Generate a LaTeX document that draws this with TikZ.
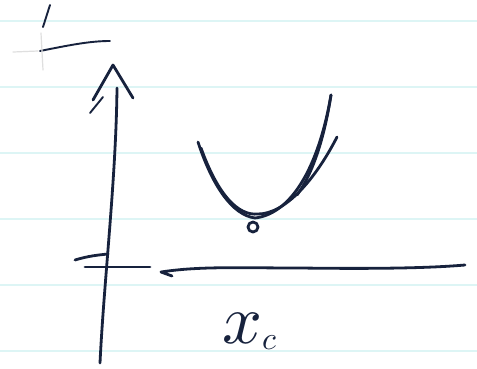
\documentclass[tikz,border=0pt]{standalone}
\begin{document}
\begin{tikzpicture}[x=1pt,y=-1pt,
  ink/.style={draw=inkc,line width=2.8pt,line cap=round,line join=round},
  thinink/.style={draw=inkc,line width=1.9pt,line cap=round,line join=round},
  faint/.style={draw=gray!25,line width=1.2pt,line cap=round},
  ruled/.style={draw=rulec,line width=2pt}]
\definecolor{inkc}{HTML}{17223D}
\definecolor{rulec}{HTML}{DDF5F5}
\useasboundingbox (0,0) rectangle (477,368);
\fill[white] (0,0) rectangle (477,368);
% ruled paper lines
\foreach \yy in {21,87,153,219,285,351} \draw[ruled] (0,\yy) -- (477,\yy);
% top-left tick mark
\draw[faint] (13,52) -- (38,51);
\draw[thinink] (40,51) .. controls (70,45) and (90,41) .. (110,41);
\draw[thinink] (50,5) -- (43,27);
\draw[faint] (41,33) -- (43,70);
% y axis with hand-drawn arrowhead
\coordinate (ytip) at (113,65);
\coordinate (ybot) at (100,363);
\draw[ink] (117,88) .. controls (116,180) and (104,280) .. (ybot);
\draw[ink] (93,100) -- (ytip) -- (133,98);
\draw[thinink] (90,113) -- (103,97);
% x axis
\draw[ink] (75,260) .. controls (88,256) and (98,255) .. (108,254);
\draw[ink] (85,267) -- (150,267);
\draw[ink] (172,276) -- (161,272) .. controls (200,266) and (240,268) .. (300,268) .. controls (380,269) and (430,268) .. (465,265);
% parabola strokes
\coordinate (pbot) at (255,218);
\draw[ink] (198,142) .. controls (212,185) and (232,215) .. (pbot) .. controls (290,214) and (318,170) .. (331,95);
\draw[ink] (201,148) .. controls (218,195) and (238,216) .. (258,214) .. controls (285,214) and (315,180) .. (337,137);
\draw[ink] (331,95) .. controls (324,140) and (312,175) .. (297,195);
\draw[ink] (253,227) circle (5);
% label
\node[text=inkc,inner sep=0pt,anchor=base west] (xc) at (222,343) {\scalebox{7}{$x$}\raisebox{-6pt}{\scalebox{3.2}{$c$}}};
\end{tikzpicture}
\end{document}
